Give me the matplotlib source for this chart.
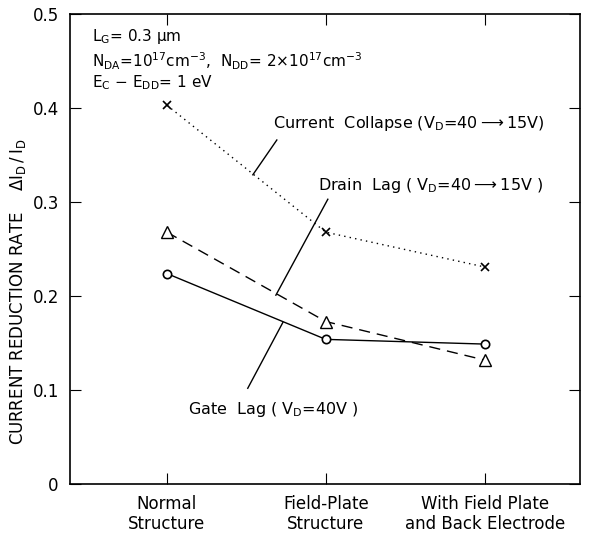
import matplotlib.pyplot as plt

# dados
estruturas = ['Normal\nStructure', 'Field-Plate\nStructure', 'With Field Plate\nand Back Electrode']
current_collapse = [0.403, 0.268, 0.231]
drain_lag = [0.268, 0.173, 0.132]
gate_lag = [0.224, 0.154, 0.149]
y_ticks = [0, 0.1, 0.2, 0.3, 0.4, 0.5]
y_tick_labels = ['0', '0.1', '0.2', '0.3', '0.4', '0.5']

plt.rcParams['font.family'] = 'DejaVu Sans'
plt.rcParams['mathtext.default'] = 'regular'

fig = plt.figure(figsize=(5.93, 5.38), dpi=100)
ax = fig.add_axes([0.118, 0.100, 0.860, 0.874])
x = range(len(estruturas))

ax.plot(x, current_collapse, color='black', linestyle=(0, (1, 3)), linewidth=1,
        marker='x', markersize=6, markeredgewidth=1.2)
ax.plot(x, drain_lag, color='black', linestyle=(0, (8, 5)), linewidth=1,
        marker='^', markersize=9, markerfacecolor='white', markeredgewidth=1)
ax.plot(x, gate_lag, color='black', linestyle='-', linewidth=1,
        marker='o', markersize=6, markerfacecolor='white', markeredgewidth=1.2)

# linhas indicadoras
ax.plot([0.692, 0.541], [0.366, 0.329], color='black', linewidth=1)
ax.plot([1.013, 0.686], [0.303, 0.201], color='black', linewidth=1)
ax.plot([0.730, 0.509], [0.172, 0.102], color='black', linewidth=1)

ax.text(0.667, 0.384, r'Current  Collapse ($V_D$=40$\longrightarrow$15V)', fontsize=11.5, va='center')
ax.text(0.95, 0.318, r'Drain  Lag ( $V_D$=40$\longrightarrow$15V )', fontsize=11.5, va='center')
ax.text(0.132, 0.079, r'Gate  Lag ( $V_D$=40V )', fontsize=11.5, va='center')

fig.text(92/593, 1-37/538, r'$L_G$= 0.3 $\mu$m', fontsize=11, va='center')
fig.text(92/593, 1-61/538, r'$N_{DA}$=$10^{17}$cm$^{-3}$,  $N_{DD}$= 2$\times$$10^{17}$cm$^{-3}$', fontsize=11, va='center')
fig.text(92/593, 1-83/538, r'$E_C$ $-$ $E_{DD}$= 1 eV', fontsize=11, va='center')

fig.text(18/593, 1-292/538, r'CURRENT REDUCTION RATE    $\Delta I_D\,/\,I_D$', fontsize=12,
         rotation=90, ha='center', va='center')

ax.set_xlim(-0.61, 2.6)
ax.set_ylim(0, 0.5)
ax.set_xticks(list(x))
ax.set_xticklabels(estruturas, fontsize=12, linespacing=1.15)
ax.set_yticks(y_ticks)
ax.set_yticklabels(y_tick_labels, fontsize=12)
ax.tick_params(direction='in', length=8, top=True, right=True, pad=8)
ax.tick_params(axis='x', pad=8)
for s in ax.spines.values():
    s.set_linewidth(1.2)

plt.savefig('out.png', dpi=100)
